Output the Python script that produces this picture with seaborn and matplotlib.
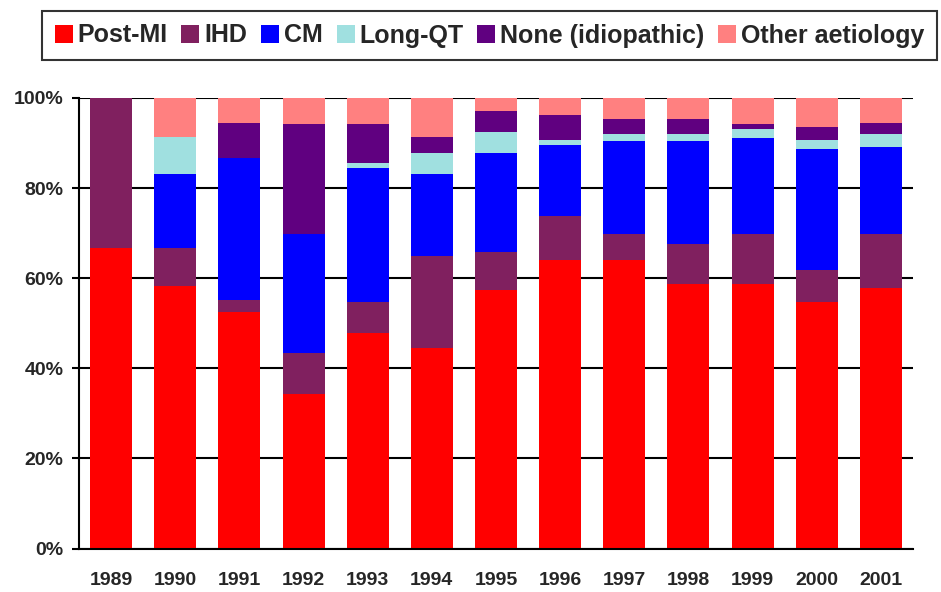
import numpy as np
import matplotlib
matplotlib.use("Agg")
import matplotlib.pyplot as plt
import seaborn as sns

years = ["1989", "1990", "1991", "1992", "1993", "1994", "1995",
         "1996", "1997", "1998", "1999", "2000", "2001"]

# percentage of cases per aetiology
post_mi = [66.7, 58.3, 52.6, 34.2, 47.8, 44.5, 57.3, 64.0, 64.0, 58.7, 58.7, 54.7, 57.9]
ihd = [33.3, 8.4, 2.5, 9.1, 6.9, 20.5, 8.5, 9.8, 5.8, 8.9, 11.1, 7.2, 11.9]
cm = [0.0, 16.4, 31.6, 26.5, 29.7, 18.1, 22.0, 15.8, 20.6, 22.8, 21.3, 26.8, 19.3]
long_qt = [0.0, 8.2, 0.0, 0.0, 1.2, 4.7, 4.6, 1.1, 1.6, 1.6, 2.0, 2.0, 2.9]
idiopathic = [0.0, 0.0, 7.8, 24.5, 8.7, 3.5, 4.7, 5.5, 3.3, 3.3, 1.1, 2.9, 2.4]
other = [0.0, 8.7, 5.5, 5.7, 5.7, 8.7, 2.9, 3.8, 4.7, 4.7, 5.8, 6.4, 5.6]

series = [
    ("Post-MI", post_mi, "#FF0000"),
    ("IHD", ihd, "#80205F"),
    ("CM", cm, "#0000FF"),
    ("Long-QT", long_qt, "#A0E0E0"),
    ("None (idiopathic)", idiopathic, "#600080"),
    ("Other aetiology", other, "#FF8080"),
]

sns.set_style("white")
plt.rcParams["font.family"] = ["Liberation Sans", "DejaVu Sans"]
plt.rcParams["font.weight"] = "bold"

fig = plt.figure(figsize=(9.41, 5.92), dpi=100)
ax = fig.add_axes([79 / 941, 1 - 548.5 / 592, (913 - 79) / 941, 450.5 / 592])

bottom = np.zeros(len(years))
for name, vals, col in series:
    sns.barplot(x=years, y=vals, bottom=bottom, color=col, saturation=1,
                width=0.654, errorbar=None, linewidth=0, label=name, ax=ax)
    bottom = bottom + np.array(vals)

if ax.get_legend() is not None:
    ax.get_legend().remove()

ax.set_ylim(0, 100)
ax.set_xlim(-0.5, len(years) - 0.5)
ax.set_yticks(np.arange(0, 101, 20))
ax.set_yticklabels([f"{v}%" for v in range(0, 101, 20)])
ax.set_xticks(np.arange(len(years)))
ax.set_xticklabels(years)
ax.set_xticks(np.arange(-0.5, len(years), 1), minor=True)
ax.set_xlabel("")
ax.set_ylabel("")

ax.set_axisbelow(True)
ax.yaxis.grid(True, color="black", linewidth=1.5)
ax.xaxis.grid(False)
for s in ["top", "right"]:
    ax.spines[s].set_visible(False)
for s in ["left", "bottom"]:
    ax.spines[s].set_color("black")
    ax.spines[s].set_linewidth(1.5)

ax.tick_params(axis="x", which="major", length=0, pad=17, labelsize=14)
ax.tick_params(axis="x", which="minor", length=5, width=1.5, color="black", direction="out")
ax.tick_params(axis="y", length=5, width=1.5, color="black", direction="out",
               pad=6, labelsize=14, left=True)
for lab in ax.get_xticklabels() + ax.get_yticklabels():
    lab.set_fontweight("bold")

handles, labels = ax.get_legend_handles_labels()
leg = fig.legend(handles, labels, ncol=6, loc="upper left",
                 bbox_to_anchor=(42 / 941, 1 - 11 / 592), borderaxespad=0,
                 prop={"weight": "bold", "size": 18},
                 handlelength=0.72, handleheight=0.7, handletextpad=0.2,
                 columnspacing=0.55, borderpad=0.5, frameon=True,
                 fancybox=False, edgecolor="black")
leg.get_frame().set_linewidth(1.5)

fig.savefig("out.png", dpi=100)
